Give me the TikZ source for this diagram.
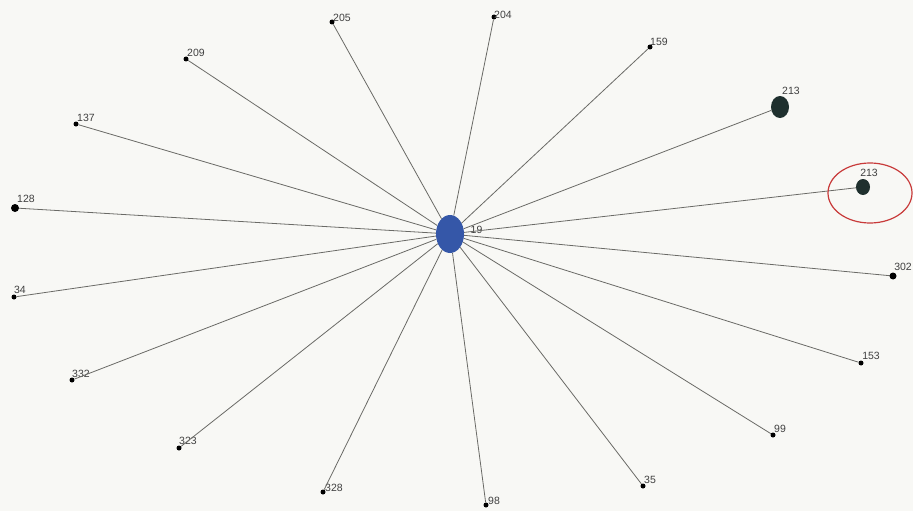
\documentclass[tikz,border=0pt]{standalone}
\usepackage{fontspec}
\setmainfont{Liberation Sans}
\definecolor{edgegray}{HTML}{6A6A66}
\definecolor{hubblue}{HTML}{3557A8}
\definecolor{leafdark}{HTML}{1F302E}
\definecolor{bgc}{HTML}{F8F8F5}
\definecolor{ringred}{HTML}{C83A3A}
\tikzset{
  edge/.style={draw=edgegray, line width=0.8pt},
  leaf/.style={circle, fill=black, inner sep=0pt, minimum size=5pt},
  bigleaf/.style={ellipse, fill=leafdark, inner sep=0pt},
  lbl/.style={font=\fontsize{10.5}{11}\selectfont, text=black!75, inner sep=0.5pt},
}
\usetikzlibrary{shapes.geometric}
\begin{document}
\begin{tikzpicture}[x=1pt,y=-1pt]
\fill[bgc] (0,0) rectangle (913,511);
\useasboundingbox (0,0) rectangle (913,511);
\node[ellipse, fill=hubblue, minimum width=28pt, minimum height=38pt, inner sep=0pt] (hub) at (450,234) {};
\node[lbl, anchor=west] (hublbl) at (470,230) {19};

\foreach \n/\x/\y/\lx/\ly/\t in {
  n205/332/22/342/18/205,
  n204/494/17/503/15/204,
  n159/650/47/659/42/159,
  n302/893/276/903/267/302,
  n153/861/363/871/356/153,
  n99/773/435/780/429/99,
  n35/643/486/650/480/35,
  n98/486/505/494/501/98,
  n328/323/492/334/488/328,
  n323/179/448/188/441/323,
  n332/72/380/81/374/332,
  n34/14/297/20/290/34,
  n137/76/124/86/118/137,
  n209/186/59/196/53/209}{
  \node[leaf] (\n) at (\x,\y) {};
  \node[lbl] (\n l) at (\lx,\ly) {\t};
  \draw[edge] (hub) -- (\n);
}
\node[leaf, minimum size=8pt] (n128) at (15,208) {};
\node[lbl] (n128l) at (26,199) {128};
\draw[edge] (hub) -- (n128);
\node[leaf, minimum size=7pt] at (893,276) {};

\node[bigleaf, minimum width=18pt, minimum height=22pt] (n213a) at (780,107) {};
\node[lbl] (n213al) at (791,91) {213};
\draw[edge] (hub) -- (n213a);
\node[bigleaf, minimum width=14pt, minimum height=16pt] (n213b) at (863,187) {};
\node[lbl] (n213bl) at (869,173) {213};
\draw[edge] (hub) -- (n213b);
\node[ellipse, draw=ringred, line width=1.2pt, minimum width=84pt, minimum height=60pt, inner sep=0pt] (ring) at (870,193) {};
\end{tikzpicture}
\end{document}
